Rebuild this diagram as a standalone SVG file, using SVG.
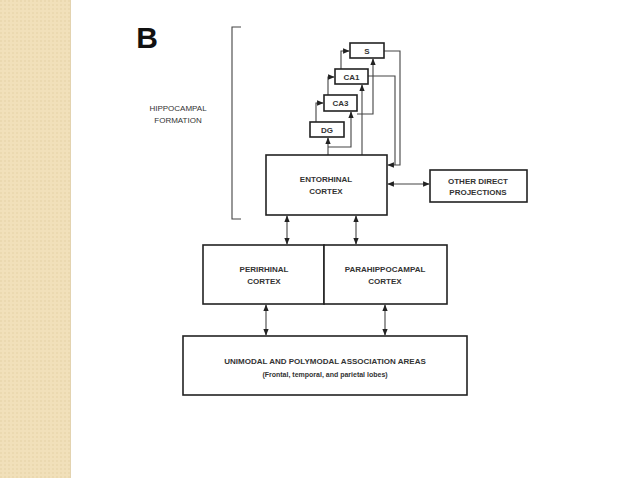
<svg xmlns="http://www.w3.org/2000/svg" width="638" height="478" viewBox="0 0 638 478">
<defs>
<pattern id="dots" width="4" height="4" patternUnits="userSpaceOnUse"><rect width="4" height="4" fill="#f1e0ba"/><circle cx="1" cy="1" r="0.7" fill="#e2cda0"/></pattern>
<marker id="a" viewBox="0 0 10 10" refX="9" refY="5" markerWidth="6" markerHeight="6" orient="auto-start-reverse"><path d="M0,1 L10,5 L0,9 z" fill="#222"/></marker>
</defs>
<style>
.b{fill:#fff;stroke:#222;stroke-width:1.6}
.l{fill:none;stroke:#444;stroke-width:1.1}
.t{font-family:"Liberation Sans",Arial,sans-serif;font-size:8px;font-weight:bold;fill:#333;text-anchor:middle}
</style>
<rect width="638" height="478" fill="#fff"/>
<rect width="70" height="478" fill="url(#dots)"/>
<line x1="70.5" y1="0" x2="70.5" y2="478" stroke="#e3d3b0"/>
<text x="147" y="48" font-family="Liberation Sans,Arial,sans-serif" font-size="30" font-weight="bold" fill="#111" text-anchor="middle">B</text>
<g id="bracket"><path class="l" d="M241,27 H232 V219 H241"/>
<text class="t" x="178" y="111" style="font-weight:normal">HIPPOCAMPAL</text>
<text class="t" x="178" y="123" style="font-weight:normal">FORMATION</text></g>
<g id="connectors">
<path class="l" d="M328,155 V138" marker-end="url(#a)"/>
<path class="l" d="M328,147 H351 V112" marker-end="url(#a)"/>
<path class="l" d="M316,122 V103 H323" marker-end="url(#a)"/>
<path class="l" d="M328,95 V77 H334" marker-end="url(#a)"/>
<path class="l" d="M341,69 V51 H349" marker-end="url(#a)"/>
<path class="l" d="M362,155 V85" marker-end="url(#a)"/>
<path class="l" d="M357,114 H373 V59" marker-end="url(#a)"/>
<path class="l" d="M368,76 H395 V165"/>
<path class="l" d="M384,51 H400 V165 H388" marker-end="url(#a)"/>
<path class="l" d="M388,184 H429" marker-start="url(#a)" marker-end="url(#a)"/>
<path class="l" d="M287,216 V244" marker-start="url(#a)" marker-end="url(#a)"/>
<path class="l" d="M356,216 V244" marker-start="url(#a)" marker-end="url(#a)"/>
<path class="l" d="M266,305 V335" marker-start="url(#a)" marker-end="url(#a)"/>
<path class="l" d="M385,305 V335" marker-start="url(#a)" marker-end="url(#a)"/>
</g>
<g id="S"><rect class="b" x="350" y="43" width="34" height="15"/><text class="t" x="367" y="54">S</text></g>
<g id="CA1"><rect class="b" x="335" y="69" width="33" height="15"/><text class="t" x="351.5" y="80">CA1</text></g>
<g id="CA3"><rect class="b" x="324" y="95" width="33" height="16"/><text class="t" x="340.5" y="106">CA3</text></g>
<g id="DG"><rect class="b" x="310" y="122" width="34" height="15"/><text class="t" x="327" y="133">DG</text></g>
<g id="EC"><rect class="b" x="266" y="155" width="121" height="60"/><text class="t" x="326" y="182">ENTORHINAL</text><text class="t" x="326" y="194">CORTEX</text></g>
<g id="other"><rect class="b" x="430" y="170" width="97" height="32"/><text class="t" x="478" y="184">OTHER DIRECT</text><text class="t" x="478" y="195">PROJECTIONS</text></g>
<g id="peri"><rect class="b" x="203" y="245" width="121" height="59"/><text class="t" x="264" y="272">PERIRHINAL</text><text class="t" x="264" y="284">CORTEX</text></g>
<g id="para"><rect class="b" x="324" y="245" width="123" height="59"/><text class="t" x="385" y="272">PARAHIPPOCAMPAL</text><text class="t" x="385" y="284">CORTEX</text></g>
<g id="assoc"><rect class="b" x="183" y="336" width="284" height="59"/><text class="t" x="325" y="364">UNIMODAL AND POLYMODAL ASSOCIATION AREAS</text><text class="t" x="325" y="377" style="font-size:7px">(Frontal, temporal, and parietal lobes)</text></g>
</svg>
